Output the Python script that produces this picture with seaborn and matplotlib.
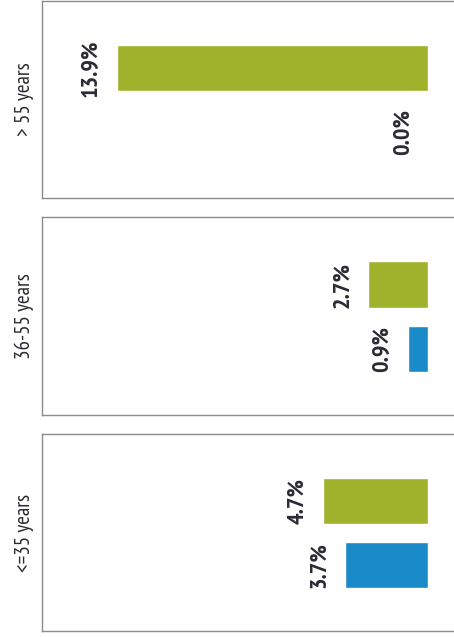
import matplotlib
matplotlib.use("Agg")
import matplotlib.pyplot as plt
import seaborn as sns
import pandas as pd
import logging
logging.getLogger("matplotlib.font_manager").setLevel(logging.ERROR)

age_groups = ["> 55 years", "36-55 years", "<=35 years"]
series_names = ["Series A", "Series B"]
values_a = [13.9, 2.7, 4.7]   # green bars
values_b = [0.0, 0.9, 3.7]    # blue bars
colors = {"Series A": "#9eb22c", "Series B": "#1a8bc8"}

sns.set_theme(style="white")
plt.rcParams["font.family"] = ["PT Sans Narrow", "Roboto Condensed", "Fira Sans Condensed",
                               "Archivo Narrow", "Liberation Sans Narrow", "DejaVu Sans"]

rows = []
for g, a, b in zip(age_groups, values_a, values_b):
    rows.append({"group": g, "series": series_names[0], "value": a})
    rows.append({"group": g, "series": series_names[1], "value": b})
df = pd.DataFrame(rows)

W, H = 454, 637
fig = plt.figure(figsize=(W / 100, H / 100), dpi=100)

panels_px = [(1, 198), (217, 415), (434, 631)]
left_px = 42
px_per_unit = 22.4
x_right = -(W - 428) / px_per_unit
x_left = (428 - left_px) / px_per_unit

for g, (top, bot) in zip(age_groups, panels_px):
    ax = fig.add_axes([left_px / W, (H - bot) / H, (W - left_px) / W, (bot - top) / H])
    sub = df[df["group"] == g]
    sns.barplot(data=sub, x="value", y="series", hue="series", palette=colors,
                order=series_names, hue_order=series_names, orient="h",
                width=0.72, dodge=False, legend=False, ax=ax, saturation=1)
    ax.set_xlim(x_left, x_right)
    ax.set_ylim(2.03, -1.05)
    ax.set_xticks([])
    ax.set_yticks([])
    ax.set_xlabel("")
    ax.set_ylabel(g, fontsize=15, color="#2a2a30", labelpad=6)
    for side in ["left", "top", "bottom"]:
        ax.spines[side].set_color("#8c8c8c")
        ax.spines[side].set_linewidth(1.0)
    ax.spines["right"].set_visible(False)
    for i, s in enumerate(series_names):
        v = sub.loc[sub["series"] == s, "value"].iloc[0]
        ax.annotate(f"{v:.1f}%", xy=(v, i), xytext=(-10.5, 0), textcoords="offset points",
                    ha="right", va="center", rotation=90, fontsize=17.5,
                    fontweight="bold", color="#2a2a33")

fig.savefig("out.png", dpi=100)
